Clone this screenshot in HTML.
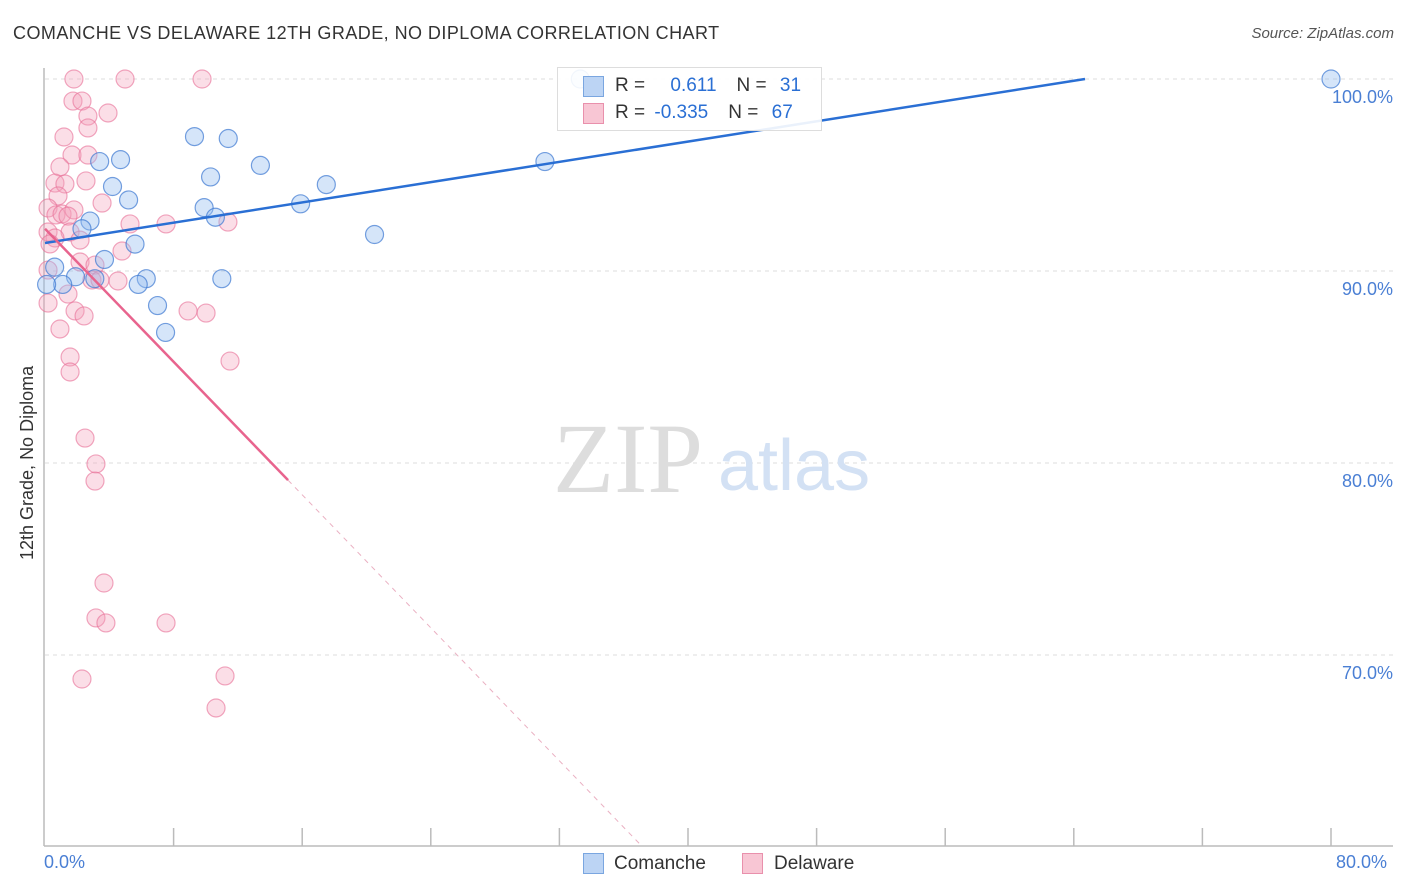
<!DOCTYPE html>
<html><head><meta charset="utf-8"><style>
body{margin:0;background:#fff;font-family:"Liberation Sans",sans-serif;}
#wrap{position:relative;width:1406px;height:892px;overflow:hidden;}
.t{position:absolute;white-space:nowrap;}
</style></head><body>
<div id="wrap">
<div class="t" style="left:13px;top:23px;font-size:18px;color:#333;letter-spacing:0.45px">COMANCHE VS DELAWARE 12TH GRADE, NO DIPLOMA CORRELATION CHART</div>
<div class="t" style="right:12px;top:25px;font-size:15px;color:#555;font-style:italic">Source: ZipAtlas.com</div>
<div class="t" style="font-size:18px;color:#333;transform:rotate(-90deg);transform-origin:0 0;left:17px;top:560px">12th Grade, No Diploma</div>
<svg id="svg" width="1406" height="892" style="position:absolute;left:0;top:0"></svg>
</div>
<script>
const blueX=[33.3,80,9.3,11.4,4.7,3.4,13.4,4.2,10.3,17.5,5.2,9.9,15.9,10.6,2.8,2.3,31.1,20.5,5.6,3.7,0.6,1.9,3.1,6.3,11.0,1.1,5.8,7.0,7.5,0.1];
const blueY=[100,100,97.0,96.9,95.8,95.7,95.5,94.4,94.9,94.5,93.7,93.3,93.5,92.8,92.6,92.2,95.7,91.9,91.4,90.6,90.2,89.7,89.6,89.6,89.6,89.3,89.3,88.2,86.8,89.3];
const pinkX=[1.80,4.98,9.77,1.74,2.30,3.92,2.67,2.67,1.18,1.68,2.67,0.93,0.62,1.24,2.55,0.81,3.55,0.19,0.68,1.06,1.80,1.43,5.29,7.53,11.38,0.19,1.56,0.62,2.18,0.31,4.79,2.18,3.11,2.92,4.54,3.42,1.43,0.19,1.87,2.43,8.9,10.02,0.93,1.56,1.56,11.51,2.49,3.17,3.11,3.67,3.17,3.79,7.53,2.30,11.2,10.64,0.19];
const pinkY=[100,100,100,98.85,98.85,98.23,98.07,97.45,96.98,96.04,96.04,95.42,94.58,94.53,94.69,93.91,93.54,93.28,92.92,92.97,93.18,92.86,92.45,92.45,92.55,92.03,92.03,91.72,91.61,91.41,91.04,90.47,90.31,89.53,89.48,89.53,88.8,88.33,87.92,87.66,87.92,87.81,86.98,85.52,84.74,85.31,81.3,79.95,79.06,73.75,71.93,71.67,71.67,68.75,68.91,67.24,90.05];
const yTicks=[100,90,80,70];
const yTickLabels=["100.0%","90.0%","80.0%","70.0%"];
const blueFit=[91.46,0.132];
const pinkFit=[92.2,-0.866];
const X0=45,X1=1331,Y100=79,PY=19.2;
function sx(v){return X0+(X1-X0)*v/80;}
function sy(v){return Y100+(100-v)*PY;}
const svg=document.getElementById('svg');const NS='http://www.w3.org/2000/svg';
function mk(t,a){const e=document.createElementNS(NS,t);for(const k in a)e.setAttribute(k,a[k]);svg.appendChild(e);return e;}
yTicks.forEach((v,i)=>{
 const g=mk('line',{x1:45,x2:1393,y1:sy(v),y2:sy(v),stroke:'#ddd','stroke-dasharray':'4,4'});
 
 
 const t=mk('text',{x:1393,y:sy(v)+24,'text-anchor':'end','font-size':18,fill:'#4a7fd4','font-family':'Liberation Sans'});
 t.textContent=yTickLabels[i];
 
 
});
let ax=mk('line',{x1:44,x2:44,y1:68,y2:846,stroke:'#bbb','stroke-width':1.5});


ax=mk('line',{x1:44,x2:1393,y1:846,y2:846,stroke:'#bbb','stroke-width':1.5});


for(let i=1;i<=10;i++){const tk=mk('line',{x1:sx(i*8),x2:sx(i*8),y1:828,y2:846,stroke:'#bbb','stroke-width':1.5});
 
 }
let wm=mk('text',{x:553,y:492,'font-size':100,fill:'#ddd','font-family':'Liberation Serif'});wm.textContent='ZIP';


wm=mk('text',{x:718,y:490,'font-size':72,fill:'#d3e1f4','font-family':'Liberation Sans'});wm.textContent='atlas';


pinkX.forEach((x,i)=>{const c=mk('circle',{cx:sx(x),cy:sy(pinkY[i]),r:9,fill:'rgba(244,160,185,0.35)',stroke:'rgba(232,110,150,0.6)','stroke-width':1.2});
 
 });
blueX.forEach((x,i)=>{const c=mk('circle',{cx:sx(x),cy:sy(blueY[i]),r:9,fill:'rgba(150,190,240,0.4)',stroke:'rgba(60,120,210,0.7)','stroke-width':1.2});
 
 });
const bxEnd=(100-blueFit[0])/blueFit[1];
let l=mk('line',{x1:sx(0),y1:sy(blueFit[0]),x2:sx(bxEnd),y2:sy(100),stroke:'#2a6fd4','stroke-width':2.5});


const pSolid=15.12,yMin=100-(846-Y100)/PY,pEnd=(yMin-pinkFit[0])/pinkFit[1];
l=mk('line',{x1:sx(0),y1:sy(pinkFit[0]),x2:sx(pSolid),y2:sy(pinkFit[0]+pinkFit[1]*pSolid),stroke:'#e8648e','stroke-width':2.5});


l=mk('line',{x1:sx(pSolid),y1:sy(pinkFit[0]+pinkFit[1]*pSolid),x2:sx(pEnd),y2:sy(yMin),stroke:'#eab0c2','stroke-width':1,'stroke-dasharray':'5,5'});


</script>
<div class="t" style="left:44px;top:852px;font-size:18px;color:#4a7fd4">0.0%</div>
<div class="t" style="left:1336px;top:852px;font-size:18px;color:#4a7fd4">80.0%</div>
<div class="t" style="left:557px;top:67px;width:263px;height:62px;border:1px solid #ddd;background:rgba(255,255,255,0.9)">
 <div style="position:absolute;left:25px;top:8px;width:19px;height:19px;background:#bcd4f4;border:1px solid #7aa6e0"></div>
 <div class="t" style="left:57px;top:7px;font-size:19px;color:#333">R = <span style="color:#2a6fd4;margin-left:20px">0.611</span><span style="margin-left:20px">N = </span><span style="color:#2a6fd4;margin-left:8px">31</span></div>
 <div style="position:absolute;left:25px;top:35px;width:19px;height:19px;background:#f8c6d4;border:1px solid #e990ac"></div>
 <div class="t" style="left:57px;top:34px;font-size:19px;color:#333">R = <span style="color:#2a6fd4;margin-left:4px">-0.335</span><span style="margin-left:20px">N = </span><span style="color:#2a6fd4;margin-left:8px">67</span></div>
</div>
<div class="t" style="left:583px;top:853px;width:19px;height:19px;background:#bcd4f4;border:1px solid #7aa6e0"></div>
<div class="t" style="left:614px;top:853px;font-size:19px;color:#333">Comanche</div>
<div class="t" style="left:742px;top:853px;width:19px;height:19px;background:#f8c6d4;border:1px solid #e990ac"></div>
<div class="t" style="left:774px;top:853px;font-size:19px;color:#333">Delaware</div>
</body></html>
